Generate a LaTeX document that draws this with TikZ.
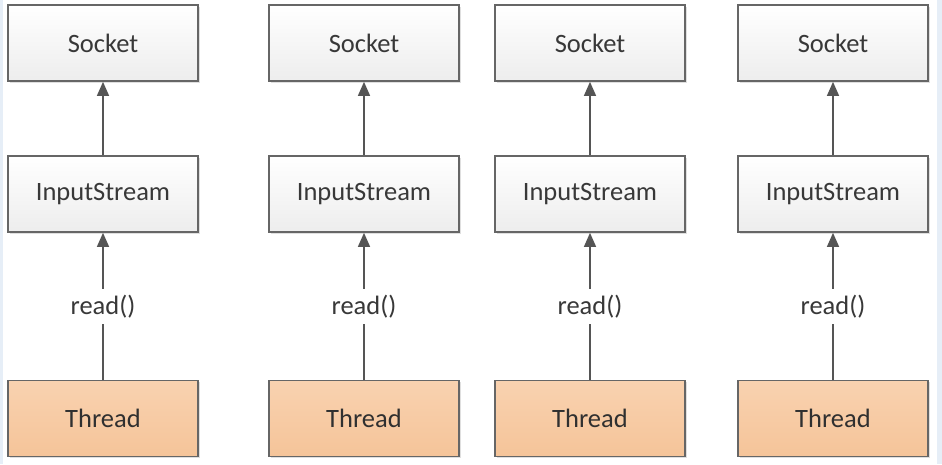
\documentclass[tikz,border=0pt]{standalone}
\usepackage{fontspec}
\setmainfont{Carlito}
\usetikzlibrary{arrows.meta, positioning, shadows}

\definecolor{boxline}{HTML}{666666}
\definecolor{linegray}{HTML}{555555}
\definecolor{txtgray}{HTML}{383838}
\definecolor{threadtop}{HTML}{F9D2B0}
\definecolor{threadbot}{HTML}{F5C499}
\definecolor{edgeblue}{HTML}{E6EEF7}

\begin{document}
\begin{tikzpicture}[x=1pt, y=-1pt, >={Triangle[width=12pt,length=14pt]},
  font=\fontsize{26.5}{30}\selectfont,
  box/.style={draw=boxline, line width=1.7pt, minimum width=190pt, minimum height=76pt,
    inner sep=0pt, top color=white, bottom color=black!7, text=txtgray,
    drop shadow={shadow xshift=1.5pt, shadow yshift=-1.5pt, opacity=0.25}},
  threadbox/.style={box, top color=threadtop, bottom color=threadbot, text=txtgray!85!black},
  link/.style={->, draw=linegray, line width=1.4pt}]

    % frame
    \useasboundingbox (0,0) rectangle (942,464);
    \fill[edgeblue] (0,0) rectangle (3,464);
    \fill[edgeblue] (937,0) rectangle (942,464);

    % one column per thread
    \foreach \x [count=\i] in {103,364,590,833} {
        \node[box] (sock\i) at (\x,43) {Socket};
        \node[box] (ins\i) at (\x,194) {InputStream};
        \node[threadbox] (thr\i) at (\x,418.5) {Thread};

        \draw[link] (thr\i) -- node[fill=white, inner xsep=2pt, inner ysep=6pt, text=txtgray] (rd\i) {read()} (ins\i);
        \draw[link] (ins\i) -- (sock\i);
    }

\end{tikzpicture}
\end{document}
